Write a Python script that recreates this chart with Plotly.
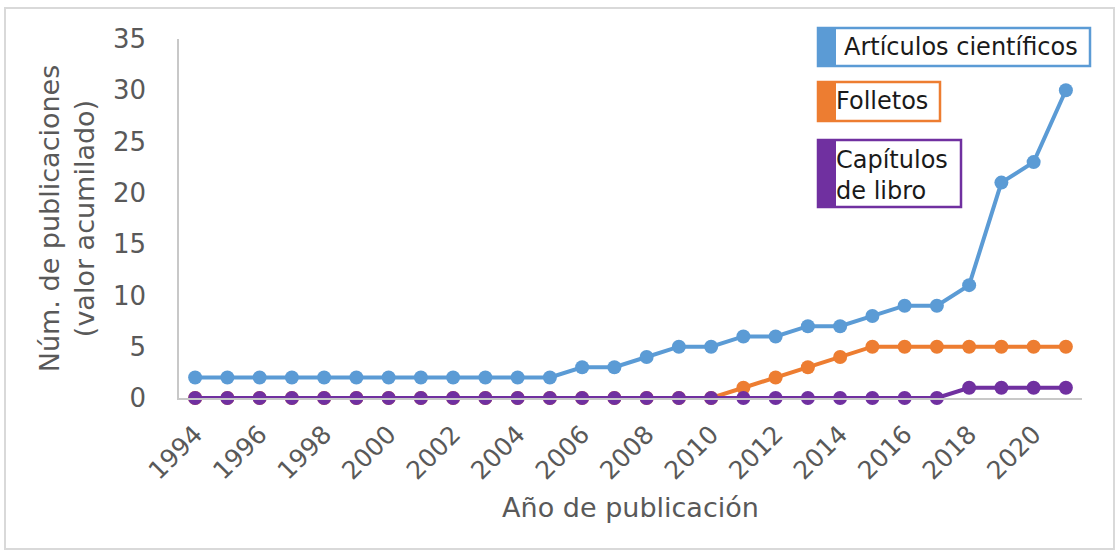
import plotly.graph_objects as go

years = list(range(1994, 2022))
articulos = [2, 2, 2, 2, 2, 2, 2, 2, 2, 2, 2, 2, 3, 3, 4, 5, 5, 6, 6, 7, 7, 8, 9, 9, 11, 21, 23, 30]
folletos = [0] * 17 + [1, 2, 3, 4, 5, 5, 5, 5, 5, 5, 5]
capitulos = [0] * 24 + [1, 1, 1, 1]

series_names = ["Artículos científicos", "Folletos", "Capítulos<br>de libro"]
colors = ["#5B9BD5", "#ED7D31", "#7030A0"]

W, H = 1116, 550
L, R, T, B = 179, 34, 39, 152
PW, PH = W - L - R, H - T - B

def px(x):
    return (x - L) / PW

def py(y):
    return (H - B - y) / PH

fig = go.Figure()
for name, vals, col in [(series_names[0], articulos, colors[0]),
                        (series_names[1], folletos, colors[1]),
                        (series_names[2], capitulos, colors[2])]:
    fig.add_trace(go.Scatter(x=years, y=vals, mode="lines+markers", name=name,
                             line=dict(color=col, width=4),
                             marker=dict(color=col, size=14),
                             showlegend=False, cliponaxis=False))

shapes = []
annotations = []
# outer frame
shapes.append(dict(type="rect", xref="paper", yref="paper", x0=px(5), x1=px(1114), y0=py(8), y1=py(549),
                   line=dict(color="#d9d9d9", width=2), fillcolor="rgba(0,0,0,0)", layer="below"))
boxes = [(818, 1090, 28, 66, 842, 47), (818, 940, 82, 121, 834, 101), (818, 961, 140, 207, 834, 175)]
for (x0, x1, y0, y1, tx, ty), name, col in zip(boxes, series_names, colors):
    shapes.append(dict(type="rect", xref="paper", yref="paper", x0=px(x0), x1=px(x1), y0=py(y1), y1=py(y0),
                       line=dict(color=col, width=2.5), fillcolor="white"))
    shapes.append(dict(type="rect", xref="paper", yref="paper", x0=px(x0), x1=px(x0 + 18), y0=py(y1), y1=py(y0),
                       line=dict(width=0), fillcolor=col))
    annotations.append(dict(text=name, xref="paper", yref="paper", x=px(tx), y=py(ty), xanchor="left",
                            yanchor="middle", showarrow=False, align="left",
                            font=dict(family="DejaVu Sans", size=24, color="#1a1a1a")))

fig.update_layout(
    width=W, height=H,
    margin=dict(l=L, r=R, t=T, b=B, autoexpand=False),
    paper_bgcolor="white", plot_bgcolor="white",
    font=dict(family="DejaVu Sans", color="#595959"),
    shapes=shapes, annotations=annotations,
    xaxis=dict(range=[1993.5, 2021.5], tickmode="linear", tick0=1994, dtick=2, tickangle=-45,
               showgrid=False, zeroline=False, showline=True, linecolor="#c8c8c8", linewidth=1.5,
               ticks="", automargin=False, ticklabelstandoff=10,
               tickfont=dict(size=25, color="#595959"),
               title=dict(text="Año de publicación", font=dict(size=27, color="#595959"), standoff=14)),
    yaxis=dict(range=[0, 35], tickmode="linear", tick0=0, dtick=5, showgrid=False, zeroline=False,
               showline=True, linecolor="#c8c8c8", linewidth=1.5, ticks="", automargin=False,
               ticklabelstandoff=26,
               tickfont=dict(size=26, color="#595959"),
               title=dict(text="Núm. de publicaciones<br>(valor acumilado)",
                          font=dict(size=27, color="#595959"), standoff=10)),
)

fig.write_html("out.html", config={"displayModeBar": False},
               post_script="document.body.style.margin='0px';")
